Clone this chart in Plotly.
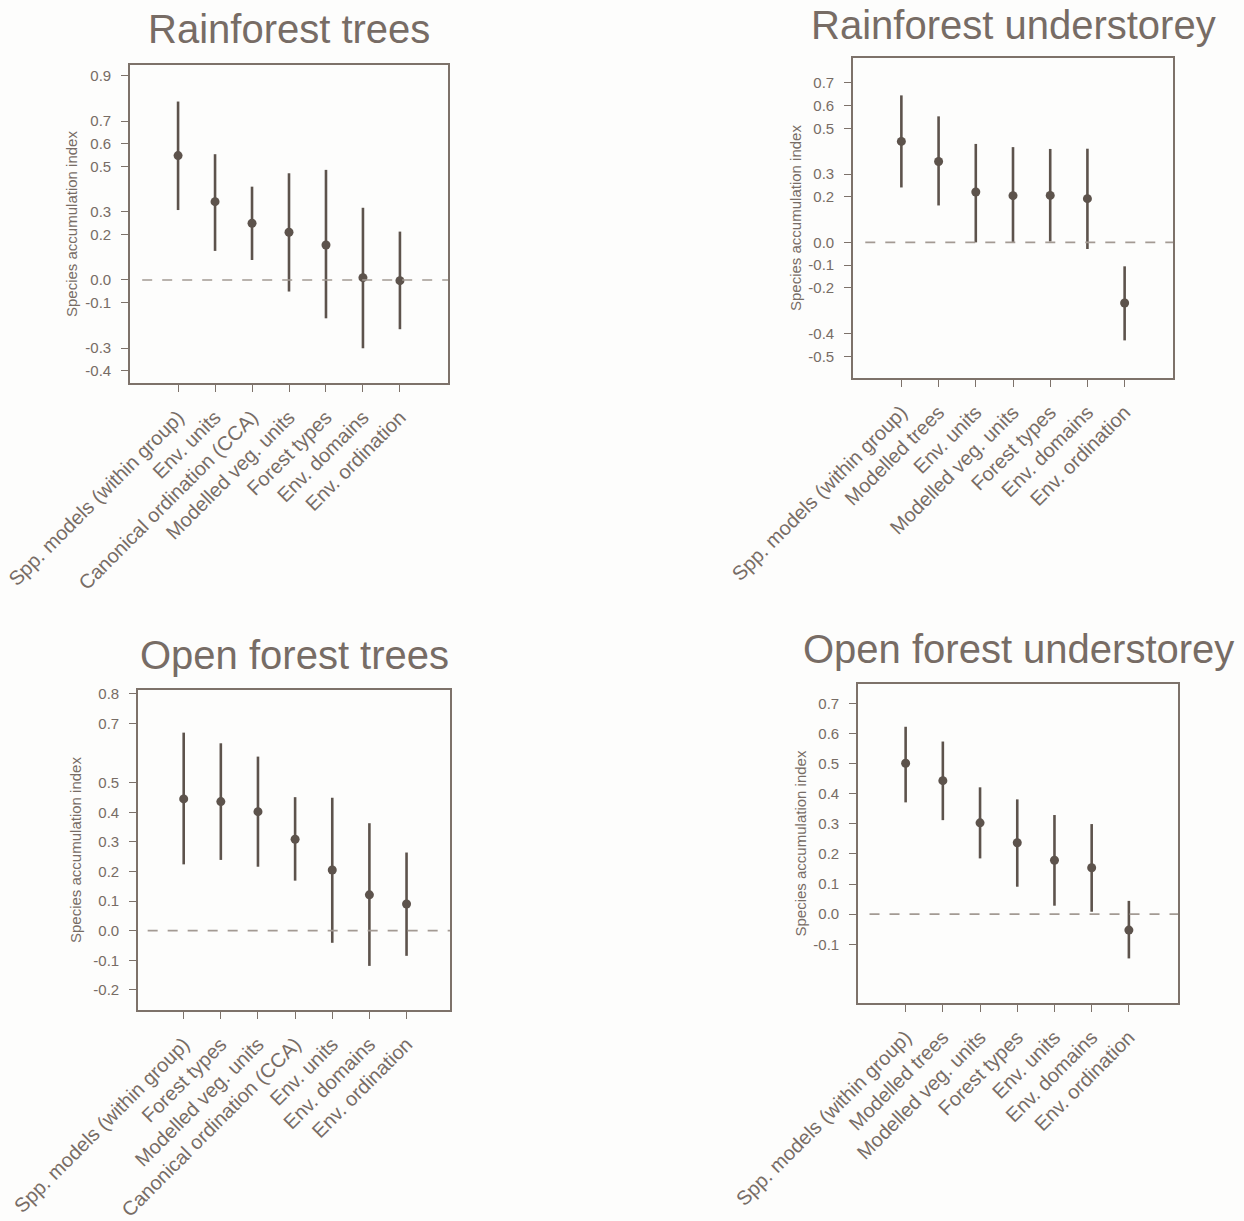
import plotly.graph_objects as go

W, H = 1244, 1221

# ---- data: species accumulation index (mean with 95% interval) ----
rt_title = "Rainforest trees"
rt_methods = ["Spp. models (within group)", "Env. units", "Canonical ordination (CCA)",
              "Modelled veg. units", "Forest types", "Env. domains", "Env. ordination"]
rt_mean = [0.548, 0.345, 0.250, 0.210, 0.154, 0.010, -0.003]
rt_upper = [0.786, 0.554, 0.411, 0.470, 0.485, 0.318, 0.213]
rt_lower = [0.308, 0.128, 0.088, -0.051, -0.169, -0.301, -0.217]
rt_ticks = [0.9, 0.7, 0.6, 0.5, 0.3, 0.2, 0.0, -0.1, -0.3, -0.4]

ru_title = "Rainforest understorey"
ru_methods = ["Spp. models (within group)", "Modelled trees", "Env. units",
              "Modelled veg. units", "Forest types", "Env. domains", "Env. ordination"]
ru_mean = [0.443, 0.355, 0.221, 0.205, 0.206, 0.192, -0.266]
ru_upper = [0.645, 0.553, 0.432, 0.418, 0.410, 0.411, -0.105]
ru_lower = [0.241, 0.162, 0.000, 0.000, 0.004, -0.029, -0.430]
ru_ticks = [0.7, 0.6, 0.5, 0.3, 0.2, 0.0, -0.1, -0.2, -0.4, -0.5]

ot_title = "Open forest trees"
ot_methods = ["Spp. models (within group)", "Forest types", "Modelled veg. units",
              "Canonical ordination (CCA)", "Env. units", "Env. domains", "Env. ordination"]
ot_mean = [0.445, 0.436, 0.402, 0.309, 0.205, 0.121, 0.090]
ot_upper = [0.669, 0.633, 0.588, 0.451, 0.449, 0.363, 0.264]
ot_lower = [0.224, 0.239, 0.216, 0.169, -0.041, -0.119, -0.085]
ot_ticks = [0.8, 0.7, 0.5, 0.4, 0.3, 0.2, 0.1, 0.0, -0.1, -0.2]

ou_title = "Open forest understorey"
ou_methods = ["Spp. models (within group)", "Modelled trees", "Modelled veg. units",
              "Forest types", "Env. units", "Env. domains", "Env. ordination"]
ou_mean = [0.501, 0.443, 0.303, 0.237, 0.179, 0.154, -0.053]
ou_upper = [0.622, 0.573, 0.421, 0.381, 0.329, 0.299, 0.044]
ou_lower = [0.371, 0.312, 0.185, 0.091, 0.028, 0.008, -0.147]
ou_ticks = [0.7, 0.6, 0.5, 0.4, 0.3, 0.2, 0.1, 0.0, -0.1]

# ---- panel geometry (pixel box: left, right, top, bottom) and axis ranges ----
panels = [
    dict(title=rt_title, methods=rt_methods, mean=rt_mean, upper=rt_upper, lower=rt_lower,
         ticks=rt_ticks, box=(130, 448, 65, 383), xr=(-1.3, 7.3), yr=(-0.454, 0.947),
         ytitle_x=72, title_y=29),
    dict(title=ru_title, methods=ru_methods, mean=ru_mean, upper=ru_upper, lower=ru_lower,
         ticks=ru_ticks, box=(853, 1173, 58, 378), xr=(-1.3, 7.3), yr=(-0.595, 0.809),
         ytitle_x=795, title_y=25),
    dict(title=ot_title, methods=ot_methods, mean=ot_mean, upper=ot_upper, lower=ot_lower,
         ticks=ot_ticks, box=(138, 450, 690, 1010), xr=(-1.23, 7.17), yr=(-0.268, 0.813),
         ytitle_x=75, title_y=655),
    dict(title=ou_title, methods=ou_methods, mean=ou_mean, upper=ou_upper, lower=ou_lower,
         ticks=ou_ticks, box=(858, 1178, 684, 1003), xr=(-1.28, 7.32), yr=(-0.295, 0.764),
         ytitle_x=800, title_y=649),
]

FONT = "Liberation Sans, Arial, sans-serif"
TEXT_C = "#776c65"
MARK_C = "#5d534c"
FRAME_C = "#7d726a"
DASH_C = "#a39a93"

fig = go.Figure()
annotations = []
shapes = []

for i, p in enumerate(panels, start=1):
    sfx = "" if i == 1 else str(i)
    xname, yname = "x" + sfx, "y" + sfx
    left, right, top, bottom = p["box"]
    n = len(p["methods"])
    xs = list(range(n))

    err_up = [u - m for u, m in zip(p["upper"], p["mean"])]
    err_dn = [m - l for m, l in zip(p["mean"], p["lower"])]

    fig.add_trace(go.Scatter(
        x=xs, y=p["mean"], mode="markers", xaxis=xname, yaxis=yname,
        marker=dict(size=9, color=MARK_C),
        error_y=dict(type="data", symmetric=False, array=err_up, arrayminus=err_dn,
                     width=0, thickness=2.6, color=MARK_C),
        showlegend=False, hoverinfo="skip",
    ))

    axis_common = dict(
        showline=True, mirror=True, linecolor=FRAME_C, linewidth=1.6,
        showgrid=False, zeroline=False, ticks="outside", ticklen=7,
        tickwidth=1.4, tickcolor=FRAME_C, automargin=False,
    )
    fig.update_layout(**{
        ("xaxis" + sfx): dict(
            domain=[left / W, right / W], range=list(p["xr"]), anchor=yname,
            tickmode="array", tickvals=xs, ticktext=p["methods"], tickangle=-45,
            tickfont=dict(family=FONT, size=20, color=TEXT_C),
            ticklabelstandoff=6,
            **axis_common),
        ("yaxis" + sfx): dict(
            domain=[1 - bottom / H, 1 - top / H], range=list(p["yr"]), anchor=xname,
            tickmode="array", tickvals=p["ticks"],
            ticktext=[f"{v:.1f}" for v in p["ticks"]],
            tickfont=dict(family=FONT, size=15, color=TEXT_C),
            ticklabelstandoff=7,
            **axis_common),
    })

    # dashed reference line at zero
    shapes.append(dict(type="line", xref=xname, yref=yname,
                       x0=-0.97, x1=p["xr"][1], y0=0, y1=0,
                       line=dict(color=DASH_C, width=1.6, dash="10px,10px")))

    # panel title
    annotations.append(dict(
        text=p["title"], xref="paper", yref="paper",
        x=(left + right) / 2 / W, y=1 - p["title_y"] / H,
        xanchor="center", yanchor="middle", showarrow=False,
        font=dict(family=FONT, size=40, color=TEXT_C)))

    # y-axis title
    annotations.append(dict(
        text="Species accumulation index", xref="paper", yref="paper",
        x=p["ytitle_x"] / W, y=1 - (top + bottom) / 2 / H,
        xanchor="center", yanchor="middle", textangle=-90, showarrow=False,
        font=dict(family=FONT, size=15, color=TEXT_C)))

fig.update_layout(
    width=W, height=H, margin=dict(l=0, r=0, t=0, b=0, autoexpand=False),
    paper_bgcolor="#fdfdfc", plot_bgcolor="#fdfdfc",
    annotations=annotations, shapes=shapes,
)

fig.write_html("out.html")
